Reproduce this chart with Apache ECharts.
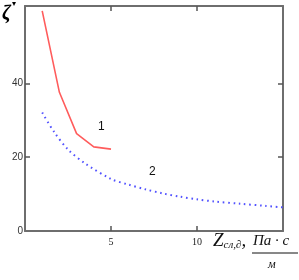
<!DOCTYPE html>
<html><head><meta charset="utf-8">
<script src="https://cdn.jsdelivr.net/npm/echarts@6/dist/echarts.min.js"></script>
<style>html,body{margin:0;padding:0;background:#fff}#c{width:299px;height:280px}</style>
</head><body><div id="c"></div>
<script>
const xTicks = [5, 10];
const yTicks = [0, 20, 40];
const curve1X = [1, 2, 3, 4, 5];
const curve1Y = [59.7, 37.6, 26.4, 22.8, 22.2];
const curve2X = [1, 1.7, 2.5, 3.5, 5, 6, 7, 8, 9, 10, 11, 12.5, 14, 15];
const curve2Y = [32.1, 26.8, 22.1, 18.3, 14.1, 12.6, 11.3, 10.2, 9.3, 8.6, 8.0, 7.4, 6.8, 6.4];
const curveLabels = ['1', '2'];

const chart = echarts.init(document.getElementById('c'), null, {renderer: 'canvas'});
const axisLine = {show: true, onZero: false, lineStyle: {color: '#6e6e6e', width: 2}};
const tick = (vals) => ({show: true, inside: true, length: 5, customValues: vals, lineStyle: {color: '#555', width: 1.5}});
chart.setOption({
  animation: false,
  grid: {left: 25, right: 16, top: 6, bottom: 49},
  xAxis: [
    {type: 'value', min: 0, max: 15, interval: 5, position: 'bottom',
     axisLine: axisLine, axisTick: tick(xTicks), splitLine: {show: false},
     axisLabel: {customValues: xTicks, color: '#222', fontFamily: 'Liberation Serif', fontSize: 10, margin: 6}},
    {type: 'value', min: 0, max: 15, interval: 5, position: 'top',
     axisLine: axisLine, axisTick: tick(xTicks), splitLine: {show: false}, axisLabel: {show: false}}
  ],
  yAxis: [
    {type: 'value', min: 0, max: 61, interval: 20, position: 'left',
     axisLine: axisLine, axisTick: tick([20, 40]), splitLine: {show: false},
     axisLabel: {customValues: yTicks, color: '#333', fontFamily: 'Liberation Sans', fontSize: 10, margin: 2}},
    {type: 'value', min: 0, max: 61, interval: 20, position: 'right',
     axisLine: axisLine, axisTick: tick([20, 40]), splitLine: {show: false}, axisLabel: {show: false}}
  ],
  series: [
    {type: 'line', showSymbol: false, data: curve1X.map((x, i) => [x, curve1Y[i]]),
     lineStyle: {color: '#ff5c5c', width: 1.6}},
    {type: 'line', showSymbol: false, smooth: 0.3, data: curve2X.map((x, i) => [x, curve2Y[i]]),
     lineStyle: {color: '#5252ff', width: 2, type: [1.6, 3.7]}}
  ],
  graphic: [
    {type: 'text', left: 98, top: 121, style: {text: curveLabels[0], font: '12px "Liberation Sans"', fill: '#111'}},
    {type: 'text', left: 149, top: 166, style: {text: curveLabels[1], font: '12px "Liberation Sans"', fill: '#111'}},
    {type: 'text', left: 2, top: 4, style: {text: 'ζ', font: 'italic bold 20px "Liberation Serif"', fill: '#000'}},
    {type: 'text', left: 12, top: 0, style: {text: '▾', font: '8px "DejaVu Sans"', fill: '#000'}},
    {type: 'text', left: 213, top: 231, style: {rich: {z: {font: 'italic 19px "Liberation Serif"', fill: '#111'}, s: {font: 'italic 11px "Liberation Serif"', fill: '#111', padding: [9, 0, 0, 0]}}, text: '{z|Z}{s|сл,∂}{z|,}'}},
    {type: 'text', left: 253, top: 234, style: {text: 'Па · с', font: 'italic 15px "Liberation Serif"', fill: '#111'}},
    {type: 'line', shape: {x1: 252, y1: 253, x2: 298, y2: 253}, style: {stroke: '#111', lineWidth: 1}},
    {type: 'text', left: 268, top: 259, style: {text: 'м', font: 'italic 12px "Liberation Serif"', fill: '#111'}}
  ]
});
</script></body></html>
